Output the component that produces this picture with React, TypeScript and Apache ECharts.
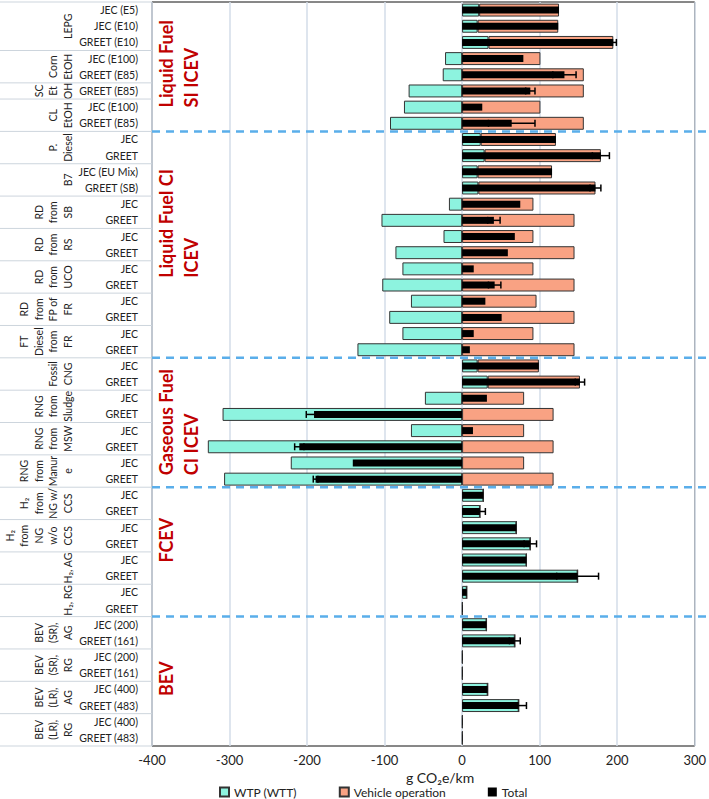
import React, { useEffect, useRef } from "react";
import * as echarts from "echarts";

// ---------- DATA ----------
const categories = [
  "JEC (E5)", "JEC (E10)", "GREET (E10)",
  "JEC (E100)", "GREET (E85)",
  "GREET (E85)",
  "JEC (E100)", "GREET (E85)",
  "JEC", "GREET",
  "JEC (EU Mix)", "GREET (SB)",
  "JEC", "GREET",
  "JEC", "GREET",
  "JEC", "GREET",
  "JEC", "GREET",
  "JEC", "GREET",
  "JEC", "GREET",
  "JEC", "GREET",
  "JEC", "GREET",
  "JEC", "GREET",
  "JEC", "GREET",
  "JEC", "GREET",
  "JEC", "GREET",
  "JEC", "GREET",
  "JEC (200)", "GREET (161)",
  "JEC (200)", "GREET (161)",
  "JEC (400)", "GREET (483)",
  "JEC (400)", "GREET (483)",
];

const wtp = [
  22, 20, 34, -22, -25, -69, -75, -93,
  24, 29, 20, 21, -17, -104, -24, -86, -77, -103, -66, -94, -77, -135,
  20, 33, -48, -309, -66, -328, -221, -307,
  27.5, 23, 70, 88, 83, 149, 6, 0.5,
  31.5, 68, 0.5, 0.5, 33, 73, 0.5, 0.5,
];

const vehicleOperation = [
  103, 104, 161, 101, 157, 157, 101, 157,
  97, 150, 96, 151, 92, 145, 92, 145, 92, 145, 96, 145, 92, 145,
  79, 119, 80, 118, 80, 118, 80, 118,
  0, 0, 0, 0, 0, 0, 0, 0,
  0, 0, 0, 0, 0, 0, 0, 0,
];

const total = [
  125, 124, 195, 79, 132, 88, 26, 64,
  121, 179, 116, 172, 75, 41, 68, 59, 15, 42, 30, 51, 15, 10,
  99, 152, 32, -191, 14, -210, -141, -189,
  27.5, 23, 70, 88, 83, 149, 6, 0.5,
  31.5, 68, 0.5, 0.5, 33, 73, 0.5, 0.5,
];

const totalError = [
  0, 0, 4, 0, 15, 6, 0, 30,
  0, 11, 0, 7, 0, 8, 0, 0, 0, 8, 0, 0, 0, 0,
  0, 6, 0, 10, 0, 6, 0, 3,
  0, 7, 0, 8, 0, 27, 0, 0,
  0, 7, 0, 0, 0, 10, 0, 0,
];

const groupLabels = [
  "LEPG", "Corn\nEtOH", "SC\nEt\nOH", "CL\nEtOH",
  "P.\nDiesel", "B7", "RD\nfrom\nSB", "RD\nfrom\nRS", "RD\nfrom\nUCO",
  "RD\nfrom\nFP of\nFR", "FT\nDiesel\nfrom\nFR",
  "Fossil\nCNG", "RNG\nfrom\nSludge", "RNG\nfrom\nMSW", "RNG\nfrom\nManur\ne",
  "H\u2082\nfrom\nNG w/\nCCS", "H\u2082\nfrom\nNG\nw/o\nCCS", "H\u2082, AG", "H\u2082, RG",
  "BEV\n(SR),\nAG", "BEV\n(SR),\nRG", "BEV\n(LR),\nAG", "BEV\n(LR),\nRG",
];
const groupSizes = [3, 2, 1, 2, 2, 2, 2, 2, 2, 2, 2, 2, 2, 2, 2, 2, 2, 2, 2, 2, 2, 2, 2];

const sectionLabels = [
  "Liquid Fuel\nSI ICEV",
  "Liquid Fuel CI\nICEV",
  "Gaseous Fuel\nCI ICEV",
  "FCEV",
  "BEV",
];
const sectionSizes = [8, 14, 8, 8, 8];

const seriesNames = ["WTP (WTT)", "Vehicle operation", "Total"];
const xMin = -400;
const xMax = 300;
const xStep = 100;

// ---------- STYLE ----------
const FONT = 'Lato, "Noto Sans", sans-serif';
const CYAN = "#8df3df";
const SALMON = "#f9a283";
const RED = "#c00000";
// px distance from a section's bottom edge up to where its red label starts
const sectionLabelLift = [24, 80, 12, 54, 50];

function starts(sizes: number[]) {
  const out: number[] = [];
  let s = 0;
  for (const n of sizes) {
    out.push(s);
    s += n;
  }
  return out;
}

export default function App() {
  const ref = useRef<HTMLDivElement>(null);

  useEffect(() => {
    const chart = echarts.init(ref.current!, null, { renderer: "svg" });
    const gStarts = starts(groupSizes);
    const sStarts = starts(sectionSizes);

    const option: any = {
      animation: false,
      backgroundColor: "#fff",
      textStyle: { fontFamily: FONT },
      grid: {
        left: 152,
        right: 11,
        top: 2,
        bottom: 53,
        show: true,
        borderColor: "#111",
        borderWidth: 1,
        backgroundColor: "transparent",
      },
      legend: {
        data: seriesNames,
        left: 219,
        top: 786,
        padding: 0,
        icon: "rect",
        itemWidth: 9,
        itemHeight: 9,
        itemGap: 42,
        textStyle: { fontSize: 12, color: "#222", fontFamily: FONT },
      },
      xAxis: {
        type: "value",
        min: xMin,
        max: xMax,
        interval: xStep,
        axisLine: { show: false },
        axisTick: { show: false },
        axisLabel: { fontSize: 13, color: "#222", margin: 7, fontFamily: FONT },
        splitLine: { show: true, lineStyle: { color: "#d3dde8", width: 1.5 } },
      },
      yAxis: [
        {
          type: "category",
          data: categories,
          inverse: true,
          axisLine: { show: false, onZero: false },
          axisTick: { show: false },
          splitLine: { show: false },
          axisLabel: {
            interval: 0,
            fontSize: 10.5,
            color: "#222",
            margin: 14,
            fontFamily: FONT,
          },
        },
        {
          type: "category",
          data: categories,
          inverse: true,
          show: false,
        },
      ],
      graphic: [
        {
          type: "text",
          left: 406,
          top: 770,
          z: 10,
          style: { text: "g CO\u2082e/km", fontSize: 14, fill: "#222", fontFamily: FONT },
        },
      ],
      series: [
        {
          name: seriesNames[0],
          type: "bar",
          stack: "s",
          yAxisIndex: 0,
          barWidth: "80%",
          data: wtp,
          itemStyle: { color: CYAN, borderColor: "#333", borderWidth: 1 },
          z: 2,
        },
        {
          name: seriesNames[1],
          type: "bar",
          stack: "s",
          yAxisIndex: 0,
          data: vehicleOperation,
          itemStyle: { color: SALMON, borderColor: "#333", borderWidth: 1 },
          z: 2,
        },
        {
          name: seriesNames[2],
          type: "bar",
          yAxisIndex: 1,
          barWidth: 7,
          data: total,
          itemStyle: { color: "#000" },
          z: 3,
        },
        {
          name: "errors",
          type: "custom",
          yAxisIndex: 1,
          silent: true,
          z: 4,
          encode: { x: 0, y: 1 },
          data: total.map((t, i) => [t, i, totalError[i]]),
          renderItem: (params: any, api: any) => {
            const err = api.value(2);
            if (!err) return null;
            const t = api.value(0);
            const idx = api.value(1);
            const a = api.coord([t - err, idx]);
            const b = api.coord([t + err, idx]);
            const h = 3.5;
            const st = { stroke: "#000", lineWidth: 1.5 };
            return {
              type: "group",
              children: [
                { type: "line", shape: { x1: a[0], y1: a[1], x2: b[0], y2: b[1] }, style: st },
                { type: "line", shape: { x1: a[0], y1: a[1] - h, x2: a[0], y2: a[1] + h }, style: st },
                { type: "line", shape: { x1: b[0], y1: b[1] - h, x2: b[0], y2: b[1] + h }, style: st },
              ],
            };
          },
        },
        {
          name: "groups",
          type: "custom",
          yAxisIndex: 0,
          silent: true,
          clip: false,
          z: 5,
          encode: { x: 0, y: 1 },
          data: groupSizes.map((n, i) => [xMin, gStarts[i], n, i]),
          renderItem: (params: any, api: any) => {
            const start = api.value(1);
            const n = api.value(2);
            const i = api.value(3);
            const band = api.size([0, 1])[1];
            const c = api.coord([xMin, start]);
            const top = c[1] - band / 2;
            const bottom = top + n * band;
            const left = c[0];
            const line = { stroke: "#cdd5dd", lineWidth: 1 };
            const children: any[] = [
              { type: "line", shape: { x1: 0, y1: top, x2: left, y2: top }, style: line },
              {
                type: "text",
                x: left - 77,
                y: (top + bottom) / 2,
                rotation: Math.PI / 2,
                style: {
                  text: groupLabels[i],
                  fontSize: 10.5,
                  fontFamily: FONT,
                  fill: "#222",
                  align: "center",
                  verticalAlign: "bottom",
                  lineHeight: 14.5,
                },
              },
            ];
            if (i === groupSizes.length - 1) {
              children.push({ type: "line", shape: { x1: 0, y1: bottom, x2: left, y2: bottom }, style: line });
            }
            return { type: "group", children };
          },
        },
        {
          name: "sections",
          type: "custom",
          yAxisIndex: 0,
          silent: true,
          clip: false,
          z: 6,
          encode: { x: 0, y: 1 },
          data: sectionSizes.map((n, i) => [xMin, sStarts[i], n, i]),
          renderItem: (params: any, api: any) => {
            const start = api.value(1);
            const n = api.value(2);
            const i = api.value(3);
            const band = api.size([0, 1])[1];
            const c = api.coord([xMin, start]);
            const top = c[1] - band / 2;
            const bottom = top + n * band;
            const left = c[0];
            const children: any[] = [
              {
                type: "text",
                x: left + 1,
                y: bottom - sectionLabelLift[i],
                rotation: Math.PI / 2,
                style: {
                  text: sectionLabels[i],
                  fontSize: 18,
                  fontWeight: "bold",
                  fontFamily: FONT,
                  fill: RED,
                  align: "left",
                  verticalAlign: "top",
                  lineHeight: 25,
                },
              },
            ];
            if (i < sectionSizes.length - 1) {
              children.push({
                type: "line",
                shape: { x1: left, y1: bottom, x2: api.getWidth(), y2: bottom },
                style: { stroke: "#5aaeea", lineWidth: 2.5, lineDash: [8, 6] },
              });
            }
            return { type: "group", children };
          },
        },
      ],
    };

    chart.setOption(option);
    return () => chart.dispose();
  }, []);

  return (
    <div
      ref={ref}
      style={{ position: "fixed", left: 0, top: 0, width: 709, height: 799, background: "#fff" }}
    />
  );
}
